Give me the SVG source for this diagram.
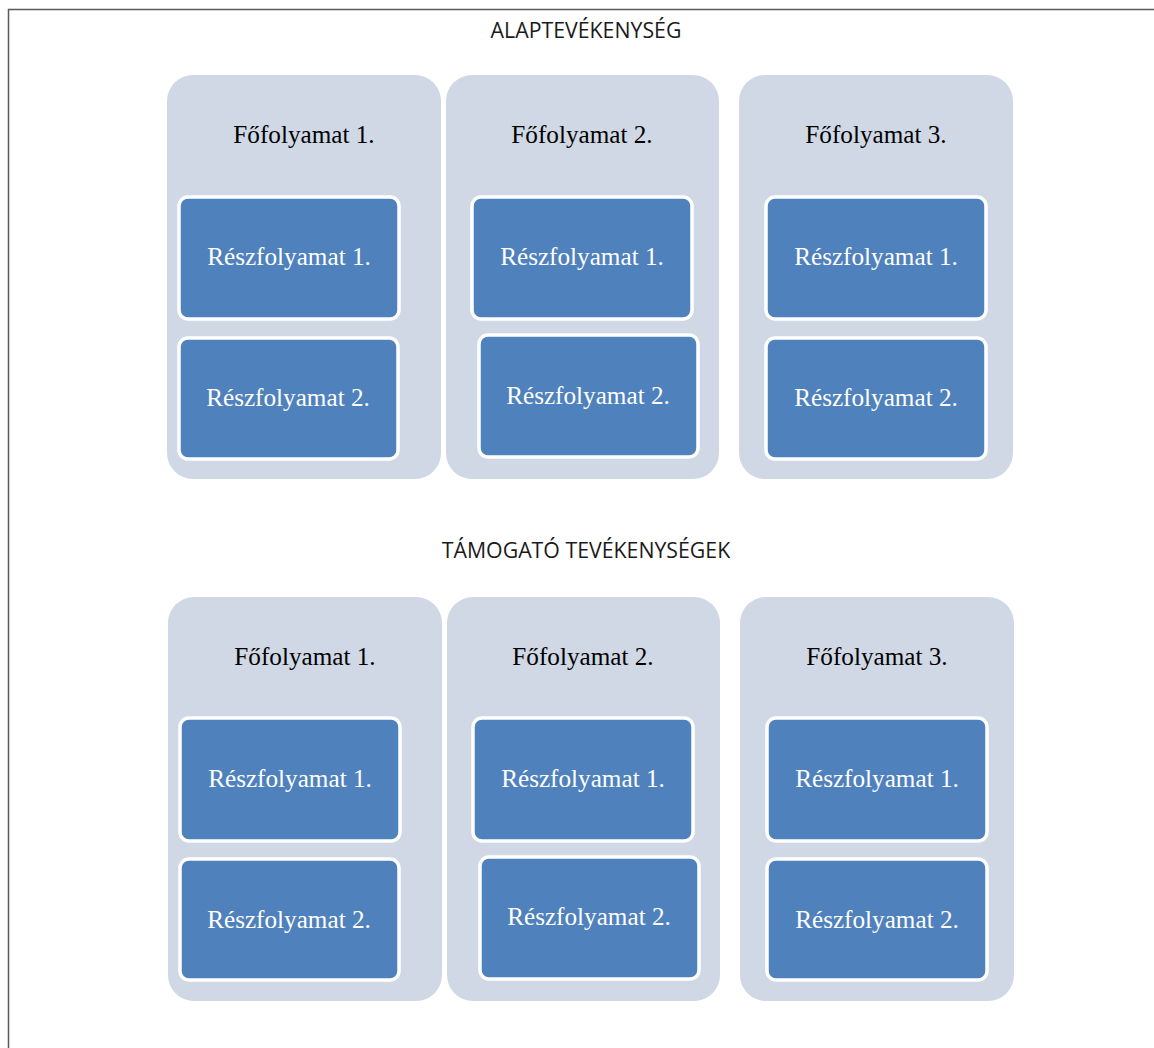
<svg xmlns="http://www.w3.org/2000/svg" width="1154" height="1048" viewBox="0 0 1154 1048">
<style>
.frame{stroke:#5a5a5a;stroke-width:1.5;fill:none}
.cont{fill:#D0D8E6}
.sub{fill:#4F81BD;stroke:#FFFFFF;stroke-width:3.5}
.head{font-family:"Liberation Serif",serif;font-size:25.2px;fill:#000;text-anchor:middle}
.subt{font-family:"Liberation Serif",serif;font-size:25.2px;fill:#FFFFFF;text-anchor:middle}
.title{font-family:"Open Sans","Liberation Sans",sans-serif;font-size:21.3px;fill:#1a1a1a;text-anchor:middle}
</style>
<rect width="1154" height="1048" fill="#FFFFFF"/>
<path class="frame" d="M8.5,1048 V9.5 H1154"/>
<text class="title" x="586" y="38">ALAPTEVÉKENYSÉG</text>
<text class="title" x="586" y="558">TÁMOGATÓ TEVÉKENYSÉGEK</text>

<g id="top-fo1">
<rect class="cont" x="167" y="75" width="274" height="404" rx="26"/>
<text class="head" x="304" y="143">Főfolyamat 1.</text>
<g id="top-fo1-r1"><rect class="sub" x="179" y="197" width="220" height="122" rx="9"/><text class="subt" x="289" y="265">Részfolyamat 1.</text></g>
<g id="top-fo1-r2"><rect class="sub" x="179" y="338" width="219" height="121" rx="9"/><text class="subt" x="288" y="406">Részfolyamat 2.</text></g>
</g>
<g id="top-fo2">
<rect class="cont" x="446" y="75" width="273" height="404" rx="26"/>
<text class="head" x="582" y="143">Főfolyamat 2.</text>
<g id="top-fo2-r1"><rect class="sub" x="472" y="197" width="220" height="122" rx="9"/><text class="subt" x="582" y="265">Részfolyamat 1.</text></g>
<g id="top-fo2-r2"><rect class="sub" x="479" y="335" width="219" height="122" rx="9"/><text class="subt" x="588" y="404">Részfolyamat 2.</text></g>
</g>
<g id="top-fo3">
<rect class="cont" x="739" y="75" width="274" height="404" rx="26"/>
<text class="head" x="876" y="143">Főfolyamat 3.</text>
<g id="top-fo3-r1"><rect class="sub" x="766" y="197" width="220" height="122" rx="9"/><text class="subt" x="876" y="265">Részfolyamat 1.</text></g>
<g id="top-fo3-r2"><rect class="sub" x="766" y="338" width="220" height="121" rx="9"/><text class="subt" x="876" y="406">Részfolyamat 2.</text></g>
</g>

<g id="bot-fo1">
<rect class="cont" x="168" y="597" width="274" height="404" rx="26"/>
<text class="head" x="305" y="665">Főfolyamat 1.</text>
<g id="bot-fo1-r1"><rect class="sub" x="180" y="718" width="220" height="123" rx="9"/><text class="subt" x="290" y="787">Részfolyamat 1.</text></g>
<g id="bot-fo1-r2"><rect class="sub" x="180" y="859" width="219" height="121" rx="9"/><text class="subt" x="289" y="928">Részfolyamat 2.</text></g>
</g>
<g id="bot-fo2">
<rect class="cont" x="447" y="597" width="273" height="404" rx="26"/>
<text class="head" x="583" y="665">Főfolyamat 2.</text>
<g id="bot-fo2-r1"><rect class="sub" x="473" y="718" width="220" height="123" rx="9"/><text class="subt" x="583" y="787">Részfolyamat 1.</text></g>
<g id="bot-fo2-r2"><rect class="sub" x="480" y="857" width="219" height="122" rx="9"/><text class="subt" x="589" y="925">Részfolyamat 2.</text></g>
</g>
<g id="bot-fo3">
<rect class="cont" x="740" y="597" width="274" height="404" rx="26"/>
<text class="head" x="877" y="665">Főfolyamat 3.</text>
<g id="bot-fo3-r1"><rect class="sub" x="767" y="718" width="220" height="123" rx="9"/><text class="subt" x="877" y="787">Részfolyamat 1.</text></g>
<g id="bot-fo3-r2"><rect class="sub" x="767" y="859" width="220" height="121" rx="9"/><text class="subt" x="877" y="928">Részfolyamat 2.</text></g>
</g>
<g id="connectors"></g>
</svg>
